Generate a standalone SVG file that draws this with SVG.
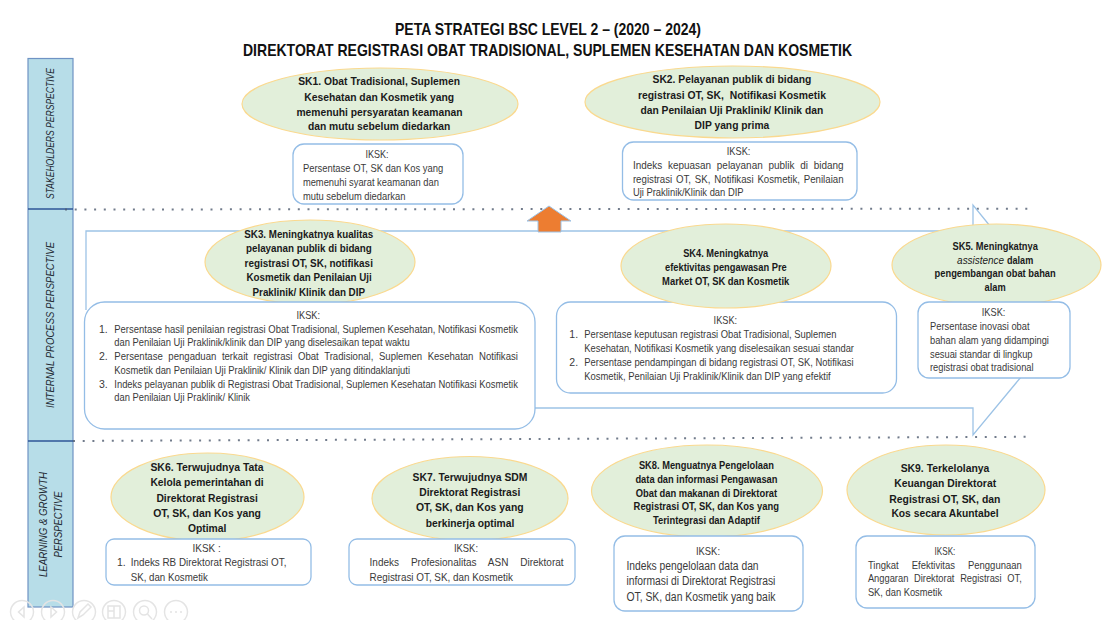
<svg xmlns="http://www.w3.org/2000/svg" width="1110" height="620" viewBox="0 0 1110 620">
<style>
text{font-family:"Liberation Sans",Arial,sans-serif;white-space:pre}
.t{font-size:17px;font-weight:bold;fill:#111}
.b{font-size:11px;font-weight:bold;fill:#1a1a1a}
.r{font-size:10.5px;fill:#3a3a3a}
.p{font-size:11px;font-style:italic;fill:#1f2a33}
.e{fill:#e2efda;stroke:#fad98f;stroke-width:1.2}
.x{fill:#fff;stroke:#94bde6;stroke-width:1.3}
.c{fill:none;stroke:#9dc3e6;stroke-width:1.3}
.d{fill:none;stroke:#4d5a6e;stroke-width:2;stroke-dasharray:2 7.7;opacity:.8}
.u{fill:none;stroke:#e4e4e4;stroke-width:1.5}
</style>
<rect width="1110" height="620" fill="#fff"/>
<text class="t" x="395" y="35" textLength="306" lengthAdjust="spacingAndGlyphs">PETA STRATEGI BSC LEVEL 2 – (2020 – 2024)</text>
<text class="t" x="243" y="56" textLength="609" lengthAdjust="spacingAndGlyphs">DIREKTORAT REGISTRASI OBAT TRADISIONAL, SUPLEMEN KESEHATAN DAN KOSMETIK</text>
<g id="perspective-band">
<rect x="28" y="58.5" width="45" height="548.5" fill="#b7dde8" stroke="#6f93c4" stroke-width="1.2"/>
<path d="M28 209H73M28 441H73" stroke="#2f5597" stroke-width="1.5" fill="none"/>
<text class="p" transform="translate(53.5 199) rotate(-90)" textLength="131" lengthAdjust="spacingAndGlyphs">STAKEHOLDERS PERSPECTIVE</text>
<text class="p" transform="translate(53.5 408) rotate(-90)" textLength="166" lengthAdjust="spacingAndGlyphs">INTERNAL PROCESS PERSPECTIVE</text>
<text class="p" transform="translate(47 577) rotate(-90)" textLength="105" lengthAdjust="spacingAndGlyphs">LEARNING &amp; GROWTH</text>
<text class="p" transform="translate(61.5 557.5) rotate(-90)" textLength="66" lengthAdjust="spacingAndGlyphs">PERSPECTIVE</text>
</g>
<g id="connectors">
<path class="d" d="M65 209.5L1030 208.7"/>
<path class="d" d="M73 441L1030 436.8"/>
<path class="c" d="M990 226L973 205V231H86V310"/>
<path class="c" d="M530 408H973V435L1021 377"/>
<path d="M549 206L571 221H561V232H538V221H527Z" fill="#ed7d31" stroke="#9dc3e6" stroke-width="1"/>
</g>
<g id="SK1"><ellipse class="e" cx="380" cy="104" rx="138" ry="36"/>
<text class="b" x="298.2" y="85" textLength="161.8" lengthAdjust="spacingAndGlyphs">SK1. Obat Tradisional, Suplemen</text>
<text class="b" x="304.3" y="100.5" textLength="149.7" lengthAdjust="spacingAndGlyphs">Kesehatan dan Kosmetik yang</text>
<text class="b" x="296.4" y="115.5" textLength="166.1" lengthAdjust="spacingAndGlyphs">memenuhi persyaratan keamanan</text>
<text class="b" x="307.9" y="130" textLength="142.5" lengthAdjust="spacingAndGlyphs">dan mutu sebelum diedarkan</text></g>
<g id="IKSK1"><rect class="x" x="293" y="144" width="170" height="60" rx="11"/>
<text class="r" x="365.4" y="158" textLength="23.2" lengthAdjust="spacingAndGlyphs">IKSK:</text>
<text class="r" x="302.9" y="172" textLength="140.3" lengthAdjust="spacingAndGlyphs">Persentase OT, SK dan Kos yang</text>
<text class="r" x="302.9" y="186" textLength="136" lengthAdjust="spacingAndGlyphs">memenuhi syarat keamanan dan</text>
<text class="r" x="302.9" y="200" textLength="102.5" lengthAdjust="spacingAndGlyphs">mutu sebelum diedarkan</text></g>
<g id="SK2"><ellipse class="e" cx="732.5" cy="102" rx="147.5" ry="36"/>
<text class="b" x="652.5" y="83.3" textLength="158.9" lengthAdjust="spacingAndGlyphs">SK2. Pelayanan publik di bidang</text>
<text class="b" x="637.9" y="98.7" textLength="188.1" lengthAdjust="spacingAndGlyphs">registrasi OT, SK,  Notifikasi Kosmetik</text>
<text class="b" x="640.4" y="114" textLength="182.8" lengthAdjust="spacingAndGlyphs">dan Penilaian Uji Praklinik/ Klinik dan</text>
<text class="b" x="694.6" y="129" textLength="74.7" lengthAdjust="spacingAndGlyphs">DIP yang prima</text></g>
<g id="IKSK2"><rect class="x" x="622.5" y="142" width="234.5" height="58" rx="11"/>
<text class="r" x="726.8" y="155" textLength="23.6" lengthAdjust="spacingAndGlyphs">IKSK:</text>
<text class="r" x="632.9" y="169" word-spacing="3.2" textLength="210.7" lengthAdjust="spacingAndGlyphs">Indeks kepuasan pelayanan publik di bidang</text>
<text class="r" x="632.9" y="182.7" word-spacing="1.2" textLength="210.7" lengthAdjust="spacingAndGlyphs">registrasi OT, SK, Notifikasi Kosmetik, Penilaian</text>
<text class="r" x="632.9" y="196" textLength="110.7" lengthAdjust="spacingAndGlyphs">Uji Praklinik/Klinik dan DIP</text></g>
<g id="SK3"><ellipse class="e" cx="310" cy="262" rx="105" ry="42"/>
<text class="b" x="244.3" y="238.3" textLength="128.9" lengthAdjust="spacingAndGlyphs">SK3. Meningkatnya kualitas</text>
<text class="b" x="246" y="252.3" textLength="125.8" lengthAdjust="spacingAndGlyphs">pelayanan publik di bidang</text>
<text class="b" x="244.6" y="266.7" textLength="128.3" lengthAdjust="spacingAndGlyphs">registrasi OT, SK, notifikasi</text>
<text class="b" x="246.4" y="281.3" textLength="125.4" lengthAdjust="spacingAndGlyphs">Kosmetik dan Penilaian Uji</text>
<text class="b" x="252.5" y="296" textLength="112.5" lengthAdjust="spacingAndGlyphs">Praklinik/ Klinik dan DIP</text></g>
<g id="IKSK3"><rect class="x" x="84.5" y="302" width="450.5" height="127" rx="20"/>
<text class="r" x="296.5" y="318.7" textLength="23.6" lengthAdjust="spacingAndGlyphs">IKSK:</text>
<text class="r" x="99" y="332.7">1.</text>
<text class="r" x="114.3" y="332.7" textLength="403.6" lengthAdjust="spacingAndGlyphs">Persentase hasil penilaian registrasi Obat Tradisional, Suplemen Kesehatan, Notifikasi Kosmetik</text>
<text class="r" x="114.3" y="346.3" textLength="295.3" lengthAdjust="spacingAndGlyphs">dan Penilaian Uji Praklinik/klinik dan DIP yang diselesaikan tepat waktu</text>
<text class="r" x="99" y="360">2.</text>
<text class="r" x="114.3" y="360" word-spacing="3.2" textLength="403.6" lengthAdjust="spacingAndGlyphs">Persentase pengaduan terkait registrasi Obat Tradisional, Suplemen Kesehatan Notifikasi</text>
<text class="r" x="114.3" y="374" textLength="295.7" lengthAdjust="spacingAndGlyphs">Kosmetik dan Penilaian Uji Praklinik/ Klinik dan DIP yang ditindaklanjuti</text>
<text class="r" x="99" y="387.7">3.</text>
<text class="r" x="114.3" y="387.7" textLength="403.6" lengthAdjust="spacingAndGlyphs">Indeks pelayanan publik di Registrasi Obat Tradisional, Suplemen Kesehatan Notifikasi Kosmetik</text>
<text class="r" x="114.3" y="401.3" textLength="135.7" lengthAdjust="spacingAndGlyphs">dan Penilaian Uji Praklinik/ Klinik</text></g>
<g id="IKSK4"><rect class="x" x="556.5" y="302" width="340" height="91" rx="14"/>
<text class="r" x="713.6" y="324.3" textLength="23.5" lengthAdjust="spacingAndGlyphs">IKSK:</text>
<text class="r" x="569.3" y="338.3">1.</text>
<text class="r" x="584.3" y="338.3" textLength="252.1" lengthAdjust="spacingAndGlyphs">Persentase keputusan registrasi Obat Tradisional, Suplemen</text>
<text class="r" x="584.3" y="352" textLength="269.7" lengthAdjust="spacingAndGlyphs">Kesehatan, Notifikasi Kosmetik yang diselesaikan sesuai standar</text>
<text class="r" x="569.3" y="366">2.</text>
<text class="r" x="584.3" y="366" textLength="269.3" lengthAdjust="spacingAndGlyphs">Persentase pendampingan di bidang registrasi OT, SK, Notifikasi</text>
<text class="r" x="584.3" y="379.7" textLength="246.4" lengthAdjust="spacingAndGlyphs">Kosmetik, Penilaian Uji Praklinik/Klinik dan DIP yang efektif</text></g>
<g id="SK4"><ellipse class="e" cx="726" cy="266" rx="105" ry="42"/>
<text class="b" x="683.2" y="257" textLength="85" lengthAdjust="spacingAndGlyphs">SK4. Meningkatnya</text>
<text class="b" x="665" y="271" textLength="121.8" lengthAdjust="spacingAndGlyphs">efektivitas pengawasan Pre</text>
<text class="b" x="662.1" y="284.7" textLength="127.2" lengthAdjust="spacingAndGlyphs">Market OT, SK dan Kosmetik</text></g>
<g id="SK5"><ellipse class="e" cx="996.5" cy="265" rx="104.5" ry="41"/>
<text class="b" x="952.5" y="250" textLength="85.4" lengthAdjust="spacingAndGlyphs">SK5. Meningkatnya</text>
<text class="b" x="957.1" y="263.7" style="font-style:italic;font-weight:normal" textLength="47" lengthAdjust="spacingAndGlyphs">assistence</text>
<text class="b" x="1007" y="263.7" textLength="26.2" lengthAdjust="spacingAndGlyphs">dalam</text>
<text class="b" x="934.6" y="277.3" textLength="121.1" lengthAdjust="spacingAndGlyphs">pengembangan obat bahan</text>
<text class="b" x="984.6" y="291.3" textLength="21.1" lengthAdjust="spacingAndGlyphs">alam</text></g>
<g id="IKSK5"><rect class="x" x="918" y="302" width="152" height="76" rx="11"/>
<text class="r" x="981.8" y="316" textLength="23.6" lengthAdjust="spacingAndGlyphs">IKSK:</text>
<text class="r" x="930" y="330" textLength="99.6" lengthAdjust="spacingAndGlyphs">Persentase inovasi obat</text>
<text class="r" x="930" y="343.7" textLength="118.9" lengthAdjust="spacingAndGlyphs">bahan alam yang didampingi</text>
<text class="r" x="930" y="357.7" textLength="102.5" lengthAdjust="spacingAndGlyphs">sesuai standar di lingkup</text>
<text class="r" x="930" y="371.3" textLength="103.6" lengthAdjust="spacingAndGlyphs">registrasi obat tradisional</text></g>
<g id="SK6"><ellipse class="e" cx="207.5" cy="497" rx="96.5" ry="44"/>
<text class="b" x="150.4" y="471" textLength="113.2" lengthAdjust="spacingAndGlyphs">SK6. Terwujudnya Tata</text>
<text class="b" x="150.4" y="486.3" textLength="113.2" lengthAdjust="spacingAndGlyphs">Kelola pemerintahan di</text>
<text class="b" x="156.4" y="501.7" textLength="101.5" lengthAdjust="spacingAndGlyphs">Direktorat Registrasi</text>
<text class="b" x="153.2" y="516.7" textLength="107.8" lengthAdjust="spacingAndGlyphs">OT, SK, dan Kos yang</text>
<text class="b" x="187.9" y="531.7" textLength="38.5" lengthAdjust="spacingAndGlyphs">Optimal</text></g>
<g id="IKSK6"><rect class="x" x="106" y="539" width="205" height="46" rx="8"/>
<text class="r" x="192.5" y="552.3" textLength="28.2" lengthAdjust="spacingAndGlyphs">IKSK :</text>
<text class="r" x="117" y="566">1.</text>
<text class="r" x="130.7" y="566" textLength="155.7" lengthAdjust="spacingAndGlyphs">Indeks RB Direktorat Registrasi OT,</text>
<text class="r" x="130.7" y="580.7" textLength="77.2" lengthAdjust="spacingAndGlyphs">SK, dan Kosmetik</text></g>
<g id="SK7"><ellipse class="e" cx="470" cy="498.5" rx="98" ry="42"/>
<text class="b" x="412.5" y="480.7" textLength="115" lengthAdjust="spacingAndGlyphs">SK7. Terwujudnya SDM</text>
<text class="b" x="419.3" y="496" textLength="101.1" lengthAdjust="spacingAndGlyphs">Direktorat Registrasi</text>
<text class="b" x="416" y="511.3" textLength="107.6" lengthAdjust="spacingAndGlyphs">OT, SK, dan Kos yang</text>
<text class="b" x="425.7" y="526.7" textLength="88.6" lengthAdjust="spacingAndGlyphs">berkinerja optimal</text></g>
<g id="IKSK7"><rect class="x" x="349" y="539" width="226" height="46" rx="8"/>
<text class="r" x="454" y="552.3" textLength="24" lengthAdjust="spacingAndGlyphs">IKSK:</text>
<text class="r" x="369.6" y="566" word-spacing="9.5" textLength="194" lengthAdjust="spacingAndGlyphs">Indeks Profesionalitas ASN Direktorat</text>
<text class="r" x="369.6" y="580.7" textLength="143.3" lengthAdjust="spacingAndGlyphs">Registrasi OT, SK, dan Kosmetik</text></g>
<g id="SK8"><ellipse class="e" cx="707" cy="491" rx="115.5" ry="46"/>
<text class="b" x="638.9" y="469" textLength="135" lengthAdjust="spacingAndGlyphs">SK8. Menguatnya Pengelolaan</text>
<text class="b" x="635.4" y="482.7" textLength="142.1" lengthAdjust="spacingAndGlyphs">data dan informasi Pengawasan</text>
<text class="b" x="635.7" y="496.7" textLength="141.4" lengthAdjust="spacingAndGlyphs">Obat dan makanan di Direktorat</text>
<text class="b" x="633.6" y="510.3" textLength="145.3" lengthAdjust="spacingAndGlyphs">Registrasi OT, SK, dan Kos yang</text>
<text class="b" x="652.9" y="524" textLength="107.1" lengthAdjust="spacingAndGlyphs">Terintegrasi dan Adaptif</text></g>
<g id="IKSK8"><rect class="x" x="614" y="536" width="189" height="75" rx="11"/>
<text class="r" x="696" y="554.7" textLength="24" lengthAdjust="spacingAndGlyphs">IKSK:</text>
<text class="r" style="font-size:12px" x="626.4" y="570" textLength="132.2" lengthAdjust="spacingAndGlyphs">Indeks pengelolaan data dan</text>
<text class="r" style="font-size:12px" x="626.4" y="585.3" textLength="149" lengthAdjust="spacingAndGlyphs">informasi di Direktorat Registrasi</text>
<text class="r" style="font-size:12px" x="626.4" y="600.7" textLength="149" lengthAdjust="spacingAndGlyphs">OT, SK, dan Kosmetik yang baik</text></g>
<g id="SK9"><ellipse class="e" cx="946" cy="490" rx="99" ry="45"/>
<text class="b" x="900.7" y="472" textLength="88.6" lengthAdjust="spacingAndGlyphs">SK9. Terkelolanya</text>
<text class="b" x="894.3" y="487.3" textLength="101.8" lengthAdjust="spacingAndGlyphs">Keuangan Direktorat</text>
<text class="b" x="889.3" y="502.7" textLength="111.1" lengthAdjust="spacingAndGlyphs">Registrasi OT, SK, dan</text>
<text class="b" x="891.4" y="517.3" textLength="107.2" lengthAdjust="spacingAndGlyphs">Kos secara Akuntabel</text></g>
<g id="IKSK9"><rect class="x" x="856" y="536" width="179" height="72" rx="11"/>
<text class="r" x="934.6" y="554.7" textLength="20.8" lengthAdjust="spacingAndGlyphs">IKSK:</text>
<text class="r" x="867.9" y="568.7" word-spacing="11.5" textLength="153.9" lengthAdjust="spacingAndGlyphs">Tingkat Efektivitas Penggunaan</text>
<text class="r" x="867.9" y="582.3" word-spacing="3.5" textLength="153.9" lengthAdjust="spacingAndGlyphs">Anggaran Direktorat Registrasi OT,</text>
<text class="r" x="867.9" y="596" textLength="74.2" lengthAdjust="spacingAndGlyphs">SK, dan Kosmetik</text></g>
<g id="slide-controls">
<circle class="u" cx="22" cy="612" r="11.5"/><path class="u" d="M24 607L18.500 612L24 617Z"/>
<circle class="u" cx="53" cy="612" r="11.5"/><path class="u" d="M51 607L56.500 612L51 617Z"/>
<circle class="u" cx="84" cy="612" r="11.5"/><path class="u" d="M78 618L80 612L88 604L91 607L83 615Z"/>
<circle class="u" cx="114" cy="612" r="11.5"/><path class="u" d="M108 606H120V618H108ZM108 611H114V618M114 606V611"/>
<circle class="u" cx="145" cy="612" r="11.5"/><circle class="u" cx="144" cy="610.5" r="4.5"/><path class="u" d="M147.500 614L152 619"/>
<circle class="u" cx="176" cy="612" r="11.5"/><path class="u" d="M170 612h2M175 612h2M180 612h2"/>
</g>
</svg>
